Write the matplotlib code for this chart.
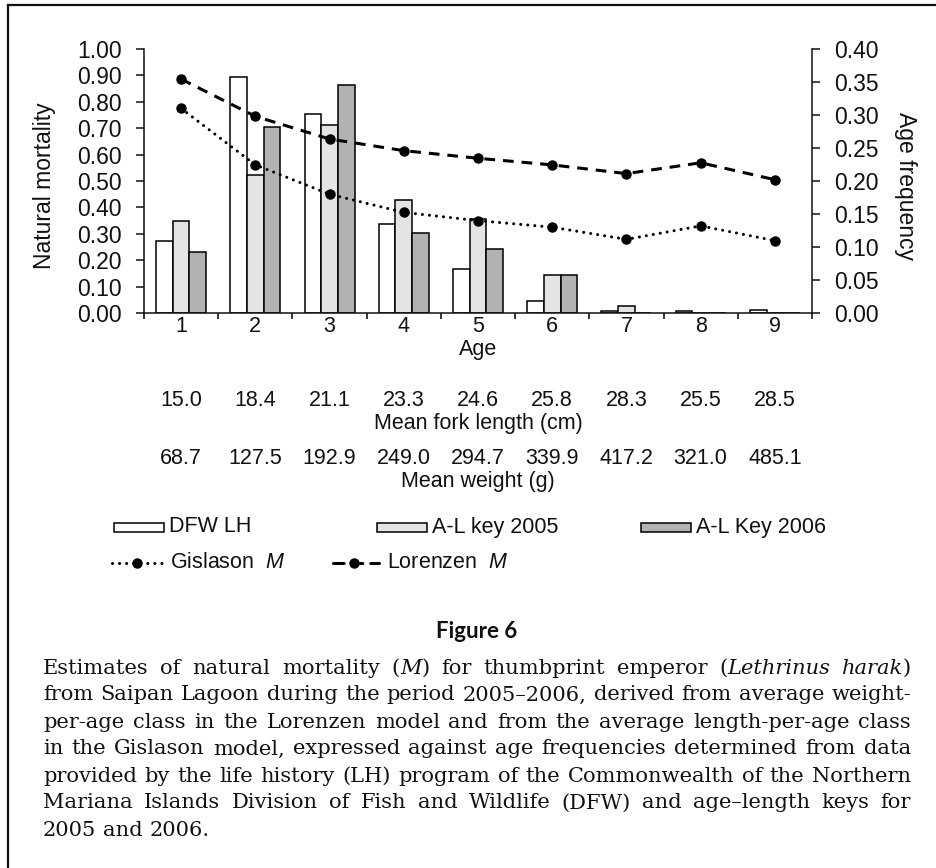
import matplotlib
matplotlib.use("Agg")
import matplotlib.pyplot as plt
import numpy as np
from matplotlib.lines import Line2D
from matplotlib.patches import Rectangle
from matplotlib.transforms import blended_transform_factory

# ---- data -------------------------------------------------------------
ages = [1, 2, 3, 4, 5, 6, 7, 8, 9]
fork_length_cm = ["15.0", "18.4", "21.1", "23.3", "24.6", "25.8", "28.3", "25.5", "28.5"]
mean_weight_g = ["68.7", "127.5", "192.9", "249.0", "294.7", "339.9", "417.2", "321.0", "485.1"]

freq_dfw_lh = [0.109, 0.357, 0.302, 0.135, 0.067, 0.018, 0.003, 0.0025, 0.004]
freq_al_2005 = [0.140, 0.209, 0.285, 0.171, 0.142, 0.057, 0.010, 0.0, 0.0]
freq_al_2006 = [0.093, 0.282, 0.345, 0.121, 0.097, 0.057, 0.0, 0.0, 0.0]

gislason_m = [0.775, 0.561, 0.450, 0.381, 0.350, 0.325, 0.279, 0.330, 0.274]
lorenzen_m = [0.886, 0.745, 0.659, 0.615, 0.586, 0.561, 0.528, 0.569, 0.505]

bar_labels = ["DFW LH", "A-L key 2005", "A-L Key 2006"]
bar_colors = ["#ffffff", "#e4e4e4", "#b2b2b2"]

caption_lines = [
    "Estimates of natural mortality (*M*) for thumbprint emperor (*Lethrinus harak*)",
    "from Saipan Lagoon during the period 2005\u20132006, derived from average weight-",
    "per-age class in the Lorenzen model and from the average length-per-age class",
    "in the Gislason model, expressed against age frequencies determined from data",
    "provided by the life history (LH) program of the Commonwealth of the Northern",
    "Mariana Islands Division of Fish and Wildlife (DFW) and age\u2013length keys for",
    "2005 and 2006.",
]

# ---- figure -----------------------------------------------------------
W, H = 936, 868
plt.rcParams["font.family"] = ["Liberation Sans", "DejaVu Sans"]
plt.rcParams["mathtext.fontset"] = "custom"
plt.rcParams["mathtext.it"] = "Liberation Sans:italic"
plt.rcParams["mathtext.rm"] = "Liberation Sans"

fig = plt.figure(figsize=(W / 100, H / 100), dpi=100)
fig.patch.set_facecolor("white")


def fx(px):
    return px / W


def fy(py):
    return 1 - py / H


INK = "#111111"
FS = 16.5
FS2 = 15.5
DOTTED = (0, (0.01, 2.3))
DASHED = (0, (3.5, 2.6))

ax = fig.add_axes([fx(144), fy(313), fx(812) - fx(144), fy(49) - fy(313)])
ax2 = ax.twinx()
ax.set_zorder(ax2.get_zorder() + 1)
ax.patch.set_visible(False)

x = np.arange(len(ages))
bw = 0.225
bars = []
for off, vals, col, lab in zip((-bw, 0, bw), (freq_dfw_lh, freq_al_2005, freq_al_2006),
                               bar_colors, bar_labels):
    bars.append(ax2.bar(x + off, vals, bw, color=col, edgecolor="black",
                        linewidth=1.1, label=lab))

ax.plot(x, gislason_m, color="black", lw=2.2, linestyle=DOTTED,
        dash_capstyle="round", marker="o", ms=6.5, label="Gislason M")
ax.plot(x, lorenzen_m, color="black", lw=2.2, linestyle=DASHED,
        marker="o", ms=6.5, label="Lorenzen M")

ax.set_xlim(-0.5, len(ages) - 0.5)
ax.set_ylim(0, 1.0)
ax2.set_ylim(0, 0.40)

ax.set_yticks(np.arange(0, 1.001, 0.1))
ax.set_yticklabels([f"{v:.2f}" for v in np.arange(0, 1.001, 0.1)])
ax2.set_yticks(np.arange(0, 0.4001, 0.05))
ax2.set_yticklabels([f"{v:.2f}" for v in np.arange(0, 0.4001, 0.05)])

ax.set_xticks(np.arange(-0.5, len(ages), 1.0))
ax.set_xticklabels([])
ax.set_xticks(x, minor=True)
ax.set_xticklabels([str(a) for a in ages], minor=True)

ax.tick_params(axis="y", direction="out", length=5.5, width=1.1, pad=10.5,
               labelsize=FS, colors=INK)
ax2.tick_params(axis="y", direction="out", length=5.5, width=1.1, pad=10.5,
                labelsize=FS, colors=INK)
ax.tick_params(axis="x", which="major", direction="out", length=4.5, width=1.1)
ax.tick_params(axis="x", which="minor", length=0, pad=2.5, labelsize=FS2, colors=INK)

for s in ("top", "right"):
    ax.spines[s].set_visible(False)
for s in ("top", "left", "bottom"):
    ax2.spines[s].set_visible(False)
for a in (ax, ax2):
    for s in a.spines.values():
        s.set_linewidth(1.1)
        s.set_color(INK)

fig.text(fx(45), fy(186), "Natural mortality", rotation=90, ha="center", va="center",
         fontsize=FS, color=INK)
fig.text(fx(905), fy(186), "Age frequency", rotation=270, ha="center", va="center",
         fontsize=FS, color=INK)

# rows under the axis
tr = blended_transform_factory(ax.transData, fig.transFigure)
cx = fx(478)
fig.text(cx, fy(349), "Age", ha="center", va="center", fontsize=FS2, color=INK)
for xi, s in zip(x, fork_length_cm):
    ax.text(xi, fy(400), s, transform=tr, ha="center", va="center", fontsize=FS2, color=INK)
fig.text(cx, fy(423), "Mean fork length (cm)", ha="center", va="center", fontsize=FS2, color=INK)
for xi, s in zip(x, mean_weight_g):
    ax.text(xi, fy(459), s, transform=tr, ha="center", va="center", fontsize=FS2, color=INK)
fig.text(cx, fy(482), "Mean weight (g)", ha="center", va="center", fontsize=FS2, color=INK)

# key
row1, row2 = 527, 563
for px0, b, lab in zip((114, 377, 641), bars, bar_labels):
    fig.add_artist(Rectangle((fx(px0), fy(row1 + 4.5)), fx(50), 9 / H,
                             facecolor=b.patches[0].get_facecolor(), edgecolor="black",
                             linewidth=1.1, transform=fig.transFigure))
    fig.text(fx(px0 + 55), fy(row1), lab, ha="left", va="center", fontsize=FS2, color=INK)

for (px0, px1, pm), ls, lab in zip(((112, 162, 137), (333, 379, 354)), (DOTTED, DASHED),
                                   ("Gislason  $M$", "Lorenzen  $M$")):
    fig.add_artist(Line2D([fx(px0), fx(px1)], [fy(row2)] * 2, color="black", lw=2.2,
                          linestyle=ls, dash_capstyle="round",
                          transform=fig.transFigure))
    fig.add_artist(Line2D([fx(pm)], [fy(row2)], marker="o", ms=6.5, color="black",
                          transform=fig.transFigure))
    fig.text(fx(px1 + 8), fy(row2), lab, ha="left", va="center", fontsize=FS2, color=INK)

# frame
fig.add_artist(Line2D([fx(8), fx(8)], [0, fy(5)], color=INK, lw=1.6, transform=fig.transFigure))
fig.add_artist(Line2D([fx(8), 1], [fy(5), fy(5)], color=INK, lw=1.6, transform=fig.transFigure))

# caption
fig.text(fx(477), fy(631), "Figure 6", ha="center", va="center", fontsize=16,
         fontweight="bold", family=["Lato", "DejaVu Sans"], color=INK)

renderer = fig.canvas.get_renderer()
cap_left, cap_right = 43, 911
cap_y0, cap_dy = 668, 27.0
SERIF = "DejaVu Serif"


def seg_words(line):
    words, ital = [], False
    for w in line.split(" "):
        segs = []
        parts = w.split("*")
        for i, p in enumerate(parts):
            if i > 0:
                ital = not ital
            if p:
                segs.append((p, ital))
        words.append(segs)
    return words


def measure(txt, fs, it=False):
    t = fig.text(0, 0, txt, fontsize=fs, family=SERIF, style="italic" if it else "normal")
    wd = t.get_window_extent(renderer).width
    t.remove()
    return wd


# pick the caption size so the full lines sit close to the column width
base_fs = 14.5
space_base = measure("a a", base_fs) - measure("aa", base_fs)
nat = []
for line in caption_lines[:-1]:
    ws = seg_words(line)
    tot = sum(measure(t, base_fs, it) for segs in ws for t, it in segs)
    nat.append(tot + space_base * (len(ws) - 1))
cap_fs = float(np.clip(base_fs * 852 / np.median(nat), 13.5, 17.0))
space_w = space_base * cap_fs / base_fs

for li, line in enumerate(caption_lines):
    yy = fy(cap_y0 + li * cap_dy)
    words = seg_words(line)
    objs, widths = [], []
    for segs in words:
        wobjs = []
        for txt, it in segs:
            t = fig.text(0, yy, txt, fontsize=cap_fs, family=SERIF,
                         style="italic" if it else "normal", ha="left", va="center",
                         color=INK)
            wobjs.append((t, t.get_window_extent(renderer).width))
        objs.append(wobjs)
        widths.append(sum(wd for _, wd in wobjs))
    last = li == len(caption_lines) - 1
    if last or len(words) < 2:
        gap = space_w
    else:
        gap = (cap_right - cap_left - sum(widths)) / (len(words) - 1)
    xpos = cap_left
    for wobjs, wd in zip(objs, widths):
        xx = xpos
        for t, sw in wobjs:
            t.set_x(fx(xx))
            xx += sw
        xpos += wd + gap

fig.savefig("out.png", dpi=100, facecolor="white")
